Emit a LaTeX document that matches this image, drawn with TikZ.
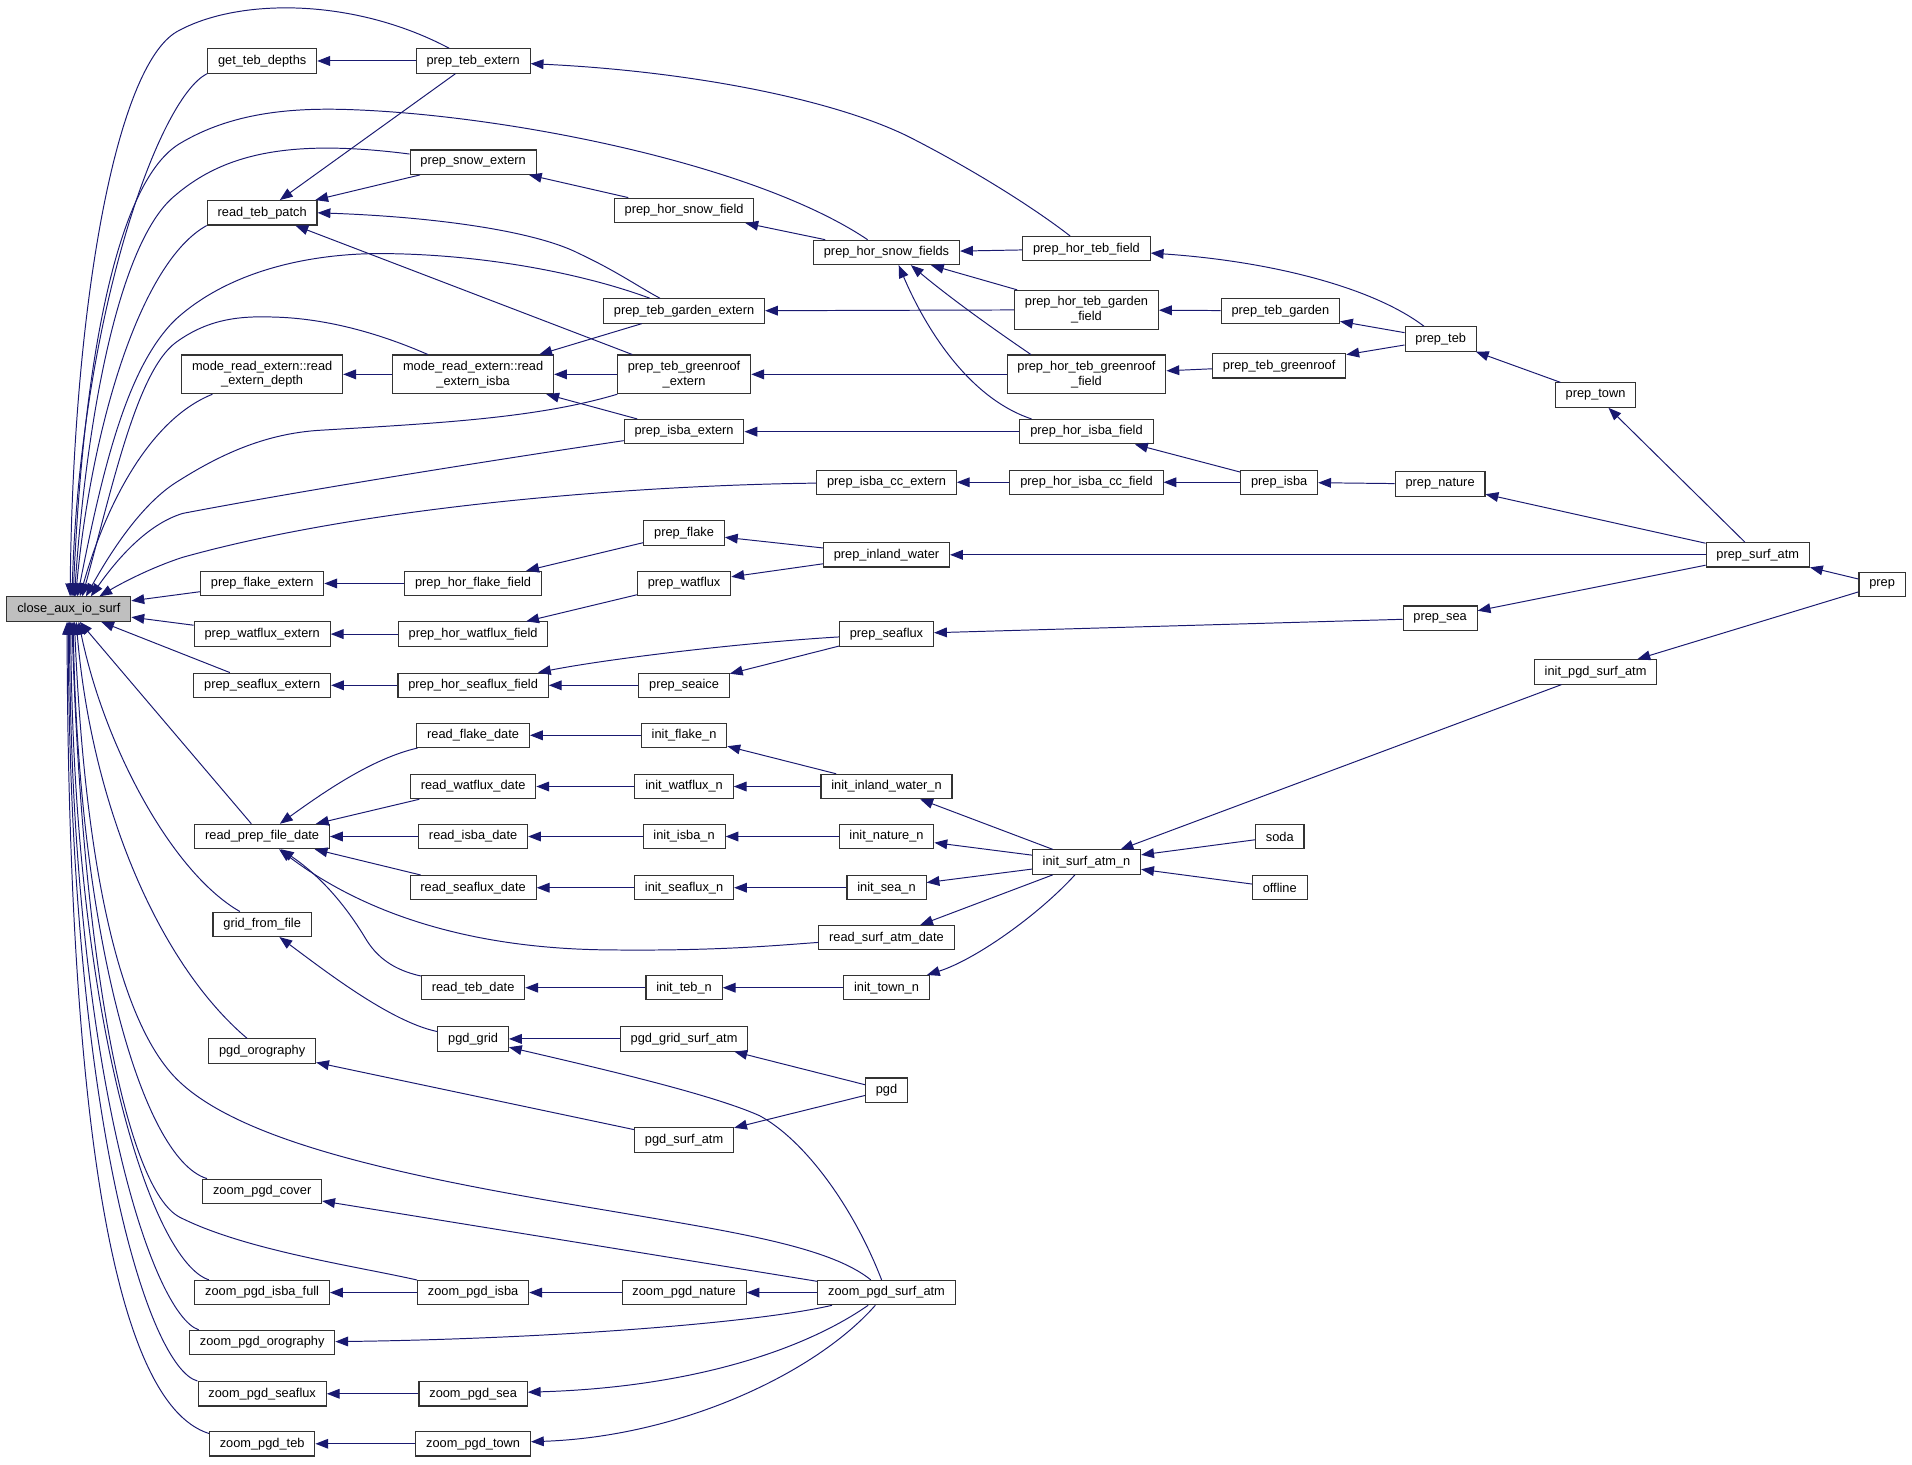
\documentclass[tikz,border=0pt]{standalone}
\usepackage{fontspec}
\setmainfont{Liberation Sans}
\usetikzlibrary{arrows.meta}
\definecolor{callblue}{HTML}{191970}
\definecolor{focusgray}{HTML}{BFBFBF}

\begin{document}
\begin{tikzpicture}[x=1pt, y=-1pt, >={Triangle[length=10.5pt,width=8pt]},
    fn/.style={rectangle, draw=black!80, fill=white, line width=0.9pt, inner xsep=8.5pt, inner ysep=5pt, minimum height=20pt, align=center, font=\fontsize{10.5}{12}\selectfont},
    call/.style={<-, draw=callblue, line width=0.8pt}]
        \useasboundingbox[fill=white] (0,0) rectangle (1568,1201.4);

        % Nodes
        \node[fn, fill=focusgray] (closeaux) at (56.5,499.5) {close\_aux\_io\_surf};

        % column 2
        \node[fn] (getdepths) at (215,50) {get\_teb\_depths};
        \node[fn] (readpatch) at (215,174.5) {read\_teb\_patch};
        \node[fn] (readdepth) at (215,307) {mode\_read\_extern::read\\\_extern\_depth};
        \node[fn] (flakeext) at (215,478.5) {prep\_flake\_extern};
        \node[fn] (watfluxext) at (215,520) {prep\_watflux\_extern};
        \node[fn] (seafluxext) at (215,562) {prep\_seaflux\_extern};
        \node[fn] (readprepdate) at (215,686) {read\_prep\_file\_date};
        \node[fn] (gridfile) at (215,758) {grid\_from\_file};
        \node[fn] (pgdoro) at (215,862) {pgd\_orography};
        \node[fn] (zcover) at (215,977) {zoom\_pgd\_cover};
        \node[fn] (zisbafull) at (215,1060) {zoom\_pgd\_isba\_full};
        \node[fn] (zoro) at (215,1101) {zoom\_pgd\_orography};
        \node[fn] (zseaflux) at (215,1143) {zoom\_pgd\_seaflux};
        \node[fn] (zteb) at (215,1184) {zoom\_pgd\_teb};

        % column 3
        \node[fn] (tebext) at (388,50) {prep\_teb\_extern};
        \node[fn] (snowext) at (388,133) {prep\_snow\_extern};
        \node[fn] (readisba) at (388,307) {mode\_read\_extern::read\\\_extern\_isba};
        \node[fn] (horflake) at (388,478.5) {prep\_hor\_flake\_field};
        \node[fn] (horwatflux) at (388,520) {prep\_hor\_watflux\_field};
        \node[fn] (horseaflux) at (388,562) {prep\_hor\_seaflux\_field};
        \node[fn] (rflake) at (388,603) {read\_flake\_date};
        \node[fn] (rwatflux) at (388,645) {read\_watflux\_date};
        \node[fn] (risba) at (388,686) {read\_isba\_date};
        \node[fn] (rseaflux) at (388,728) {read\_seaflux\_date};
        \node[fn] (rteb) at (388,810) {read\_teb\_date};
        \node[fn] (pgdgrid) at (388,852) {pgd\_grid};
        \node[fn] (zisba) at (388,1060) {zoom\_pgd\_isba};
        \node[fn] (zsea) at (388,1143) {zoom\_pgd\_sea};
        \node[fn] (ztown) at (388,1184) {zoom\_pgd\_town};

        % column 4
        \node[fn] (horsnow) at (561,172.5) {prep\_hor\_snow\_field};
        \node[fn] (gardenext) at (561,255) {prep\_teb\_garden\_extern};
        \node[fn] (greenext) at (561,307) {prep\_teb\_greenroof\\\_extern};
        \node[fn] (isbaext) at (561,354) {prep\_isba\_extern};
        \node[fn] (pflake) at (561,437) {prep\_flake};
        \node[fn] (pwatflux) at (561,478.5) {prep\_watflux};
        \node[fn] (pseaice) at (561,562) {prep\_seaice};
        \node[fn] (iflake) at (561,603) {init\_flake\_n};
        \node[fn] (iwatflux) at (561,645) {init\_watflux\_n};
        \node[fn] (iisba) at (561,686) {init\_isba\_n};
        \node[fn] (iseaflux) at (561,728) {init\_seaflux\_n};
        \node[fn] (iteb) at (561,810) {init\_teb\_n};
        \node[fn] (gridsurf) at (561,852) {pgd\_grid\_surf\_atm};
        \node[fn] (pgdsurf) at (561,935) {pgd\_surf\_atm};
        \node[fn] (znature) at (561,1060) {zoom\_pgd\_nature};

        % column 5
        \node[fn] (horsnows) at (727,207) {prep\_hor\_snow\_fields};
        \node[fn] (isbaccext) at (727,395.5) {prep\_isba\_cc\_extern};
        \node[fn] (inland) at (727,455) {prep\_inland\_water};
        \node[fn] (pseaflux) at (727,520) {prep\_seaflux};
        \node[fn] (iinland) at (727,645) {init\_inland\_water\_n};
        \node[fn] (inature) at (727,686) {init\_nature\_n};
        \node[fn] (isea) at (727,728) {init\_sea\_n};
        \node[fn] (rsurfatm) at (727,769) {read\_surf\_atm\_date};
        \node[fn] (itown) at (727,810) {init\_town\_n};
        \node[fn] (pgd) at (727,894) {pgd};
        \node[fn] (zsurfatm) at (727,1060) {zoom\_pgd\_surf\_atm};

        % column 6
        \node[fn] (horteb) at (891,204) {prep\_hor\_teb\_field};
        \node[fn] (horgarden) at (891,254) {prep\_hor\_teb\_garden\\\_field};
        \node[fn] (horgreen) at (891,307) {prep\_hor\_teb\_greenroof\\\_field};
        \node[fn] (horisba) at (891,354) {prep\_hor\_isba\_field};
        \node[fn] (horisbacc) at (891,395.5) {prep\_hor\_isba\_cc\_field};
        \node[fn] (isurfatm) at (891,707) {init\_surf\_atm\_n};

        % columns 7 to 11
        \node[fn] (tebgarden) at (1050,255) {prep\_teb\_garden};
        \node[fn] (tebgreen) at (1049,300) {prep\_teb\_greenroof};
        \node[fn] (pisba) at (1049,395.5) {prep\_isba};
        \node[fn] (soda) at (1049.5,686) {soda};
        \node[fn] (offline) at (1049.5,728) {offline};
        \node[fn] (pteb) at (1181.5,278) {prep\_teb};
        \node[fn] (pnature) at (1181,397) {prep\_nature};
        \node[fn] (psea) at (1181,507) {prep\_sea};
        \node[fn] (ptown) at (1308.5,324) {prep\_town};
        \node[fn] (ipgd) at (1308.5,551) {init\_pgd\_surf\_atm};
        \node[fn] (psurfatm) at (1441.5,455) {prep\_surf\_atm};
        \node[fn] (prep) at (1543.5,479.5) {prep};

        % Arrows
        % into close_aux_io_surf, from above
        \draw[call] ([xshift=1pt]closeaux.north) .. controls (60,250) and (95,55) .. (145,26) .. controls (195,-2) and (290,-2) .. (tebext);
        \draw[call] ([xshift=2.5pt]closeaux.north) .. controls (66,260) and (130,80) .. (getdepths.south west);
        \draw[call] ([xshift=3.5pt]closeaux.north) .. controls (68,300) and (95,150) .. (147,118) .. controls (190,92) and (240,88) .. (290,90) .. controls (420,95) and (620,135) .. (horsnows);
        \draw[call] ([xshift=4.5pt]closeaux.north) .. controls (72,330) and (100,195) .. (144,160) .. controls (185,125) and (240,114) .. (snowext);
        \draw[call] ([xshift=5.5pt]closeaux.north) .. controls (75,350) and (115,215) .. (readpatch.south west);
        \draw[call] ([xshift=7pt]closeaux.north) .. controls (85,380) and (105,300) .. (144,262) .. controls (190,220) and (260,207) .. (318,208) .. controls (400,209) and (480,225) .. (gardenext);
        \draw[call] ([xshift=9pt]closeaux.north) .. controls (85,420) and (120,345) .. (readdepth);
        \draw[call] ([xshift=11pt]closeaux.north) .. controls (92,400) and (112,305) .. (144,281) .. controls (170,262) and (195,259) .. (224,260) .. controls (270,261) and (315,275) .. (readisba);
        \draw[call] ([xshift=14pt]closeaux.north) .. controls (95,445) and (120,410) .. (147,394) .. controls (185,370) and (220,356) .. (260,353) .. controls (360,347) and (440,343) .. (greenext);
        \draw[call] ([xshift=18pt]closeaux.north) .. controls (95,460) and (120,430) .. (150,421) .. controls (260,400) and (420,375) .. (isbaext);
        \draw[call] ([xshift=25pt]closeaux.north) .. controls (100,478) and (125,465) .. (150,457) .. controls (300,415) and (520,398) .. (isbaccext);
        % into close_aux_io_surf, side and below
        \draw[call] (closeaux) -- (flakeext);
        \draw[call] (closeaux) -- (watfluxext);
        \draw[call] (closeaux) -- (seafluxext);
        \draw[call] (closeaux) -- (readprepdate);
        \draw[call] ([xshift=8pt]closeaux.south) .. controls (85,610) and (140,715) .. (gridfile);
        \draw[call] ([xshift=6pt]closeaux.south) .. controls (75,660) and (130,790) .. (pgdoro);
        \draw[call] ([xshift=4.5pt]closeaux.south) .. controls (70,720) and (100,840) .. (145,885) .. controls (200,940) and (350,968) .. (500,993) .. controls (600,1010) and (680,1022) .. (zsurfatm);
        \draw[call] ([xshift=3.5pt]closeaux.south) .. controls (64,760) and (115,950) .. ([xshift=4pt]zcover.north west);
        \draw[call] ([xshift=2.5pt]closeaux.south) .. controls (68,800) and (105,975) .. (147,998) .. controls (200,1025) and (290,1038) .. (zisba);
        \draw[call] ([xshift=1.5pt]closeaux.south) .. controls (60,840) and (125,1035) .. ([xshift=12pt]zisbafull.north west);
        \draw[call] ([xshift=0.5pt]closeaux.south) .. controls (58,880) and (125,1078) .. ([xshift=8pt]zoro.north west);
        \draw[call] ([xshift=-0.5pt]closeaux.south) .. controls (57,920) and (122,1122) .. (zseaflux.north west);
        \draw[call] ([xshift=-1.5pt]closeaux.south) .. controls (56,900) and (90,1150) .. ([yshift=-2pt]zteb.north west);

        % second level
        \draw[call] (getdepths) -- (tebext);
        \draw[call] (readpatch) -- (tebext);
        \draw[call] (readpatch) -- (snowext);
        \draw[call] (readpatch.east) .. controls (360,178) and (440,190) .. (475,208) .. controls (505,222) and (525,236) .. (gardenext);
        \draw[call] (readpatch) -- (greenext);
        \draw[call] (readdepth) -- (readisba);
        \draw[call] (readisba) -- (gardenext);
        \draw[call] (readisba) -- (greenext);
        \draw[call] (readisba) -- (isbaext);
        \draw[call] (flakeext) -- (horflake);
        \draw[call] (watfluxext) -- (horwatflux);
        \draw[call] (seafluxext) -- (horseaflux);
        \draw[call] (readprepdate) .. controls (265,650) and (305,622) .. (rflake);
        \draw[call] (readprepdate) -- (rwatflux);
        \draw[call] (readprepdate) -- (risba);
        \draw[call] (readprepdate) -- (rseaflux);
        \draw[call] (readprepdate) .. controls (280,735) and (360,778) .. (500,779) .. controls (590,780) and (640,775) .. (rsurfatm);
        \draw[call] (readprepdate) .. controls (265,720) and (285,745) .. (300,770) .. controls (312,790) and (330,797) .. (rteb);
        \draw[call] (gridfile) .. controls (265,795) and (320,838) .. (pgdgrid);
        \draw[call] (pgdoro) -- (pgdsurf);
        \draw[call] (zcover) -- (zsurfatm);
        \draw[call] (zisbafull) -- (zisba);
        \draw[call] (zoro) .. controls (450,1098) and (620,1085) .. (zsurfatm);
        \draw[call] (zseaflux) -- (zsea);
        \draw[call] (zteb) -- (ztown);

        % third level
        \draw[call] (tebext) .. controls (560,58) and (680,80) .. (745,112) .. controls (800,140) and (850,172) .. (horteb);
        \draw[call] (snowext) -- (horsnow);
        \draw[call] (horflake) -- (pflake);
        \draw[call] (horwatflux) -- (pwatflux);
        \draw[call] (horseaflux) .. controls (500,540) and (610,527) .. (pseaflux);
        \draw[call] (horseaflux) -- (pseaice);
        \draw[call] (rflake) -- (iflake);
        \draw[call] (rwatflux) -- (iwatflux);
        \draw[call] (risba) -- (iisba);
        \draw[call] (rseaflux) -- (iseaflux);
        \draw[call] (rteb) -- (iteb);
        \draw[call] (pgdgrid) -- (gridsurf);
        \draw[call] (pgdgrid) .. controls (500,878) and (585,898) .. (623,915) .. controls (660,935) and (700,990) .. (zsurfatm);
        \draw[call] (zisba) -- (znature);
        \draw[call] (zsea) .. controls (560,1138) and (655,1110) .. (zsurfatm);
        \draw[call] (ztown) .. controls (560,1178) and (670,1125) .. (zsurfatm);

        % fourth level
        \draw[call] (horsnow) -- (horsnows);
        \draw[call] (gardenext) -- (horgarden);
        \draw[call] (greenext) -- (horgreen);
        \draw[call] (isbaext) -- (horisba);
        \draw[call] (isbaccext) -- (horisbacc);
        \draw[call] (pflake) -- (inland);
        \draw[call] (pwatflux) -- (inland);
        \draw[call] (pseaice) -- (pseaflux);
        \draw[call] (iflake) -- (iinland);
        \draw[call] (iwatflux) -- (iinland);
        \draw[call] (iisba) -- (inature);
        \draw[call] (iseaflux) -- (isea);
        \draw[call] (iteb) -- (itown);
        \draw[call] (gridsurf) -- (pgd);
        \draw[call] (pgdsurf) -- (pgd);
        \draw[call] (znature) -- (zsurfatm);

        % fifth level
        \draw[call] (horsnows) -- (horteb);
        \draw[call] (horsnows) -- (horgarden);
        \draw[call] ([xshift=20pt]horsnows.south) .. controls (780,245) and (815,270) .. ([xshift=20pt]horgreen.north west);
        \draw[call] ([xshift=10pt]horsnows.south) .. controls (755,260) and (790,325) .. ([xshift=10pt]horisba.north west);
        \draw[call] (inland) -- (psurfatm);
        \draw[call] (pseaflux) -- (psea);
        \draw[call] (iinland) -- (isurfatm);
        \draw[call] (inature) -- (isurfatm);
        \draw[call] (isea) -- (isurfatm);
        \draw[call] (rsurfatm) -- (isurfatm);
        \draw[call] (itown) .. controls (800,787) and (852,750) .. (isurfatm);

        % sixth level
        \draw[call] (horteb) .. controls (1040,214) and (1125,235) .. (pteb);
        \draw[call] (horgarden) -- (tebgarden);
        \draw[call] (horgreen) -- (tebgreen);
        \draw[call] (horisba) -- (pisba);
        \draw[call] (horisbacc) -- (pisba);
        \draw[call] (isurfatm) -- (ipgd);
        \draw[call] (isurfatm) -- (soda);
        \draw[call] (isurfatm) -- (offline);

        % top callers
        \draw[call] (tebgarden) -- (pteb);
        \draw[call] (tebgreen) -- (pteb);
        \draw[call] (pisba) -- (pnature);
        \draw[call] (pteb) -- (ptown);
        \draw[call] (pnature) -- (psurfatm);
        \draw[call] (psea) -- (psurfatm);
        \draw[call] (ptown) -- (psurfatm);
        \draw[call] (psurfatm) -- (prep);
        \draw[call] (ipgd) -- (prep);
    \end{tikzpicture}
\end{document}
